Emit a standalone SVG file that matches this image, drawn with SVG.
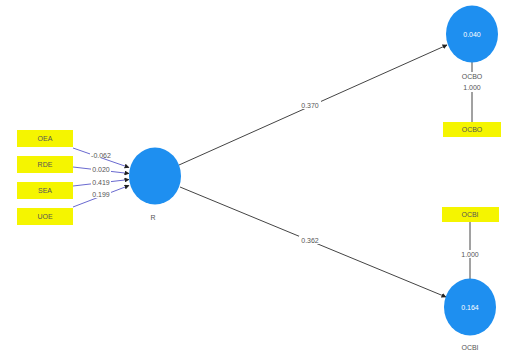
<svg xmlns="http://www.w3.org/2000/svg" width="525" height="354" viewBox="0 0 525 354">
  <defs>
    <style>
      .lv { fill: #1e8ff0; }
      .mv { fill: #f5f500; }
      .edge { stroke: #444; stroke-width: 1; fill: none; }
      .edge-in { stroke: #6a6ad0; stroke-width: 1; fill: none; }
      .t { font-family: "Liberation Sans", Arial, sans-serif; font-size: 7px; fill: #555; text-anchor: middle; }
      .tin { font-family: "Liberation Sans", Arial, sans-serif; font-size: 7px; fill: #ffffff; text-anchor: middle; }
      .lbl-bg { fill: #ffffff; }
    </style>
    <marker id="arrow" viewBox="0 0 10 10" refX="9" refY="5" markerWidth="5" markerHeight="5" orient="auto">
      <path d="M0,0 L10,5 L0,10 z" fill="#222"/>
    </marker>
  </defs>
  <rect width="525" height="354" fill="#ffffff"/>

  <!-- connectors -->
  <g id="connectors">
    <line class="edge-in" x1="73" y1="148" x2="129" y2="167.5" marker-end="url(#arrow)"/>
    <line class="edge-in" x1="73" y1="167" x2="129" y2="173.5" marker-end="url(#arrow)"/>
    <line class="edge-in" x1="73" y1="186" x2="129" y2="179.5" marker-end="url(#arrow)"/>
    <line class="edge-in" x1="73" y1="207" x2="129" y2="185.5" marker-end="url(#arrow)"/>
    <line class="edge" x1="179" y1="165" x2="447" y2="45" marker-end="url(#arrow)"/>
    <line class="edge" x1="180" y1="187" x2="446" y2="297" marker-end="url(#arrow)"/>
    <line class="edge" x1="472" y1="62" x2="472" y2="122"/>
    <line class="edge" x1="470" y1="222" x2="470" y2="279"/>

    <!-- path coefficients and weights -->
    <rect class="lbl-bg" x="90" y="151" width="22" height="7"/>
    <text class="t" x="101" y="157.5">-0.062</text>
    <rect class="lbl-bg" x="91" y="165" width="20" height="7"/>
    <text class="t" x="101" y="171.5">0.020</text>
    <rect class="lbl-bg" x="91" y="179" width="20" height="7"/>
    <text class="t" x="101" y="185">0.419</text>
    <rect class="lbl-bg" x="91" y="191" width="20" height="7"/>
    <text class="t" x="101" y="197">0.199</text>
    <rect class="lbl-bg" x="299" y="101" width="22" height="8"/>
    <text class="t" x="310" y="107.5">0.370</text>
    <rect class="lbl-bg" x="299" y="236" width="22" height="8"/>
    <text class="t" x="310" y="243">0.362</text>
    <rect class="lbl-bg" x="457" y="72" width="30" height="20"/>
    <text class="t" x="472" y="79">OCBO</text>
    <text class="t" x="472" y="90">1.000</text>
    <rect class="lbl-bg" x="459" y="250" width="22" height="8"/>
    <text class="t" x="470" y="256.5">1.000</text>
  </g>

  <!-- indicators -->
  <g id="OEA"><rect class="mv" x="17" y="130" width="56" height="17"/><text class="t" x="45" y="141">OEA</text></g>
  <g id="RDE"><rect class="mv" x="17" y="156" width="56" height="17"/><text class="t" x="45" y="167">RDE</text></g>
  <g id="SEA"><rect class="mv" x="17" y="182" width="56" height="17"/><text class="t" x="45" y="193">SEA</text></g>
  <g id="UOE"><rect class="mv" x="17" y="208" width="56" height="17"/><text class="t" x="45" y="219">UOE</text></g>
  <g id="OCBO-ind"><rect class="mv" x="443" y="122" width="58" height="15"/><text class="t" x="472" y="132">OCBO</text></g>
  <g id="OCBI-ind"><rect class="mv" x="442" y="207" width="57" height="15"/><text class="t" x="470" y="217">OCBI</text></g>

  <!-- constructs -->
  <g id="R">
    <ellipse class="lv" cx="155" cy="176" rx="26" ry="28.5"/>
    <text class="t" x="153" y="220">R</text>
  </g>
  <g id="OCBO">
    <ellipse class="lv" cx="472" cy="34" rx="26" ry="28.5"/>
    <text class="tin" x="472" y="36.5">0.040</text>
  </g>
  <g id="OCBI">
    <ellipse class="lv" cx="470" cy="307" rx="26" ry="28.5"/>
    <text class="tin" x="470" y="309.5">0.164</text>
    <text class="t" x="470" y="350">OCBI</text>
  </g>
</svg>
